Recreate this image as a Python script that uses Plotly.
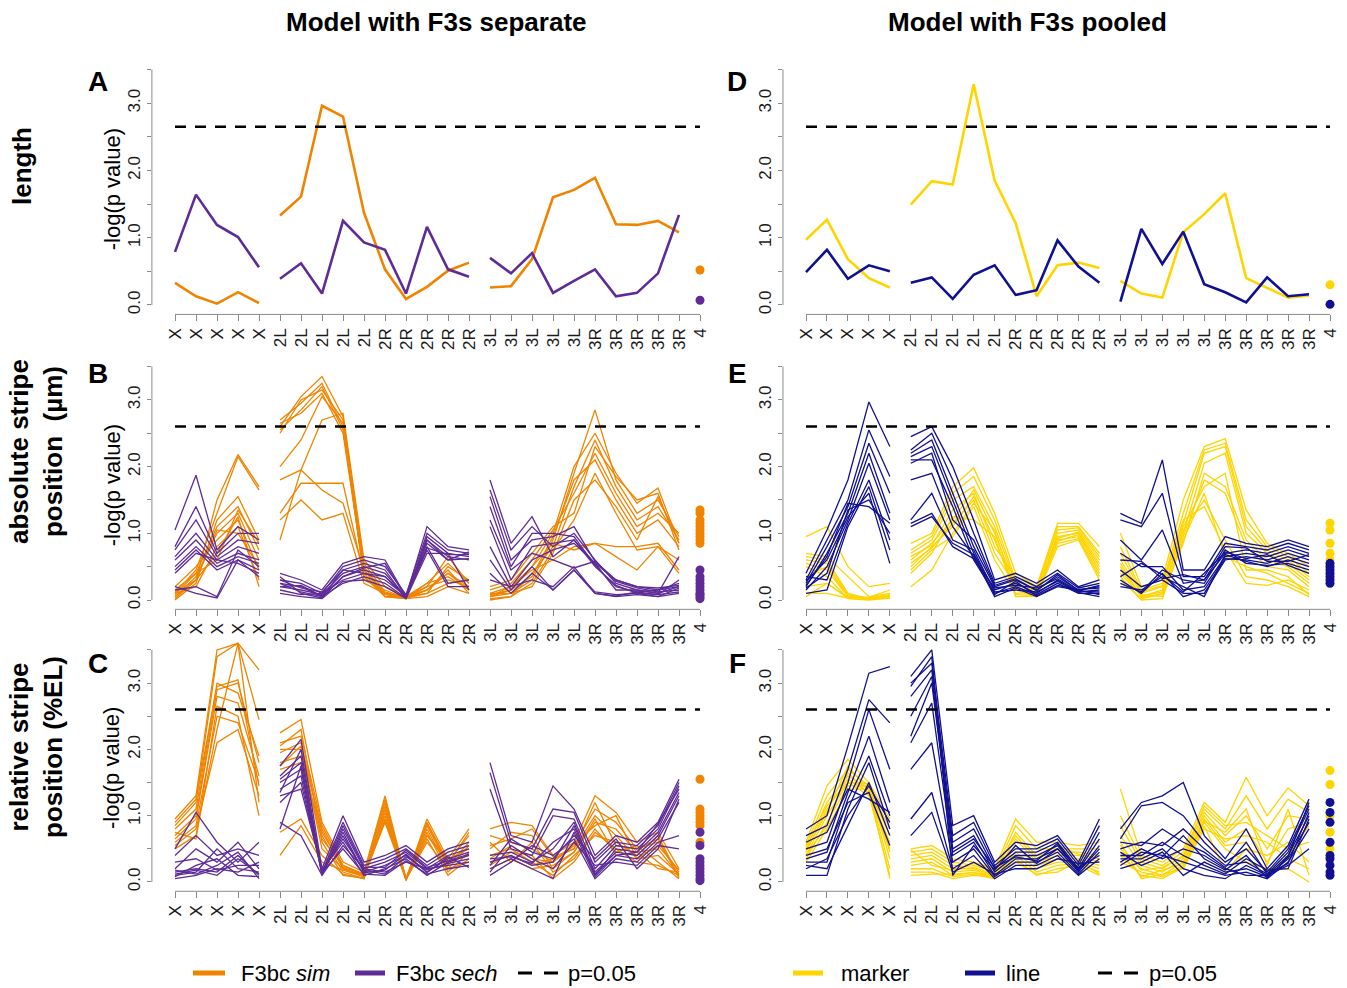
import plotly.graph_objects as go

W, H = 1347, 988

# ---------------- categories ----------------
chrom = ["X"] * 5 + ["2L"] * 5 + ["2R"] * 5 + ["3L"] * 5 + ["3R"] * 5 + ["4"]
threshold_len = 2.65
threshold_pos = 2.60

# ---------------- panel A (length, F3s separate) ----------------
A_sim = [0.33, 0.13, 0.02, 0.19, 0.03, 1.33, 1.61, 2.96, 2.80, 1.37, 0.53, 0.09, 0.27, 0.51, 0.63,
         0.26, 0.28, 0.68, 1.60, 1.71, 1.89, 1.20, 1.19, 1.25, 1.08]
A_sim_dot = [0.52]
A_sech = [0.79, 1.64, 1.19, 1.01, 0.56, 0.39, 0.62, 0.17, 1.25, 0.93, 0.82, 0.17, 1.16, 0.53, 0.42,
          0.70, 0.47, 0.77, 0.18, 0.36, 0.53, 0.13, 0.18, 0.47, 1.34]
A_sech_dot = [0.07]

# ---------------- panel D (length, F3s pooled) ----------------
D_marker = [0.97, 1.27, 0.68, 0.40, 0.26, 1.49, 1.84, 1.79, 3.28, 1.85, 1.22, 0.13, 0.59, 0.63, 0.55,
            0.36, 0.17, 0.11, 1.08, 1.35, 1.66, 0.40, 0.26, 0.11, 0.14]
D_marker_dot = [0.30]
D_line = [0.49, 0.82, 0.39, 0.59, 0.50, 0.33, 0.41, 0.09, 0.45, 0.59, 0.15, 0.22, 0.96, 0.57, 0.33,
          0.05, 1.13, 0.61, 1.09, 0.31, 0.19, 0.04, 0.41, 0.13, 0.16]
D_line_dot = [0.01]

# ---------------- panel B (absolute position, separate) ----------------
B_sim = [
    [0.05, 0.30, 1.50, 2.18, 1.70, 2.60, 3.05, 3.35, 2.75, 0.45, 0.05, 0.02, 0.15, 0.40, 0.20, 0.05, 0.10, 0.30, 0.90, 1.90, 2.85, 1.80, 1.30, 1.50, 0.95],
    [0.10, 0.45, 1.30, 2.15, 1.65, 2.70, 2.95, 3.25, 2.60, 0.35, 0.10, 0.05, 0.20, 0.65, 0.25, 0.10, 0.20, 0.50, 1.00, 2.00, 2.50, 1.90, 1.45, 1.68, 0.85],
    [0.00, 0.25, 1.20, 1.55, 0.90, 2.55, 2.85, 3.20, 2.55, 0.50, 0.08, 0.03, 0.10, 0.50, 0.30, 0.00, 0.05, 0.40, 0.80, 1.70, 2.40, 1.70, 1.20, 1.40, 0.90],
    [0.15, 0.40, 1.10, 1.40, 0.75, 2.50, 3.00, 3.15, 2.70, 0.30, 0.15, 0.02, 0.25, 0.35, 0.15, 0.15, 0.25, 0.60, 1.05, 1.60, 2.20, 1.60, 1.10, 1.30, 1.00],
    [0.05, 0.35, 1.00, 1.30, 0.60, 2.65, 2.80, 3.10, 2.50, 0.40, 0.05, 0.05, 0.15, 0.45, 0.10, 0.05, 0.15, 0.35, 0.95, 1.80, 2.10, 1.50, 1.00, 1.20, 0.80],
    [0.20, 0.50, 0.90, 1.20, 0.45, 2.00, 2.40, 3.05, 2.65, 0.55, 0.12, 0.02, 0.20, 0.30, 0.20, 0.10, 0.10, 0.20, 0.70, 1.50, 1.80, 1.40, 0.90, 1.55, 0.85],
    [0.10, 0.20, 0.80, 1.10, 0.30, 1.80, 1.95, 2.70, 2.80, 0.60, 0.20, 0.05, 0.10, 0.25, 0.30, 0.20, 0.30, 0.70, 1.10, 1.30, 2.30, 1.85, 1.50, 1.60, 0.75],
    [0.02, 0.30, 0.70, 1.25, 0.20, 1.30, 1.75, 1.75, 1.75, 0.35, 0.05, 0.02, 0.05, 0.20, 0.10, 0.02, 0.05, 0.25, 0.75, 1.20, 1.90, 1.30, 0.75, 0.80, 0.40],
    [0.08, 0.40, 0.60, 1.35, 0.85, 1.20, 1.50, 1.20, 1.30, 0.25, 0.10, 0.03, 0.15, 0.40, 0.15, 0.05, 0.20, 0.45, 0.60, 0.80, 0.85, 0.80, 0.80, 0.85, 0.45],
    [0.12, 0.30, 1.05, 1.00, 0.50, 0.90, 1.95, 1.65, 1.45, 0.45, 0.10, 0.05, 0.25, 0.55, 0.25, 0.08, 0.15, 0.50, 0.85, 0.75, 0.85, 0.65, 0.45, 0.80, 0.60],
]
B_sim_dots = [1.35, 1.30, 1.20, 1.15, 1.10, 1.05, 1.00, 0.95, 0.90, 0.85]
B_sech = [
    [1.05, 1.87, 0.75, 1.10, 0.90, 0.40, 0.30, 0.15, 0.55, 0.65, 0.60, 0.05, 1.10, 0.80, 0.75, 1.80, 0.85, 1.25, 0.65, 0.90, 0.55, 0.30, 0.20, 0.15, 0.25],
    [0.80, 1.40, 0.70, 1.00, 1.00, 0.30, 0.25, 0.10, 0.50, 0.60, 0.50, 0.08, 1.00, 0.75, 0.70, 1.65, 0.75, 1.10, 0.80, 1.00, 0.60, 0.25, 0.15, 0.10, 0.20],
    [0.75, 1.20, 0.65, 0.90, 0.85, 0.25, 0.20, 0.05, 0.45, 0.55, 0.45, 0.02, 0.95, 0.70, 0.65, 1.55, 0.60, 0.90, 0.95, 1.10, 0.58, 0.28, 0.18, 0.12, 0.15],
    [0.65, 1.00, 0.60, 0.80, 0.70, 0.20, 0.15, 0.08, 0.40, 0.50, 0.40, 0.05, 0.90, 0.65, 0.60, 1.40, 0.50, 1.00, 1.00, 0.95, 0.52, 0.20, 0.12, 0.08, 0.30],
    [0.60, 0.90, 0.55, 0.70, 0.60, 0.35, 0.10, 0.03, 0.35, 0.45, 0.35, 0.04, 0.85, 0.60, 0.62, 1.10, 0.30, 0.80, 0.85, 0.90, 0.50, 0.22, 0.10, 0.05, 0.18],
    [0.50, 0.80, 0.50, 0.65, 0.55, 0.15, 0.08, 0.10, 0.30, 0.40, 0.30, 0.06, 0.80, 0.25, 0.30, 0.80, 0.20, 0.60, 0.75, 0.85, 0.55, 0.15, 0.15, 0.10, 0.65],
    [0.45, 0.75, 0.45, 0.60, 0.45, 0.25, 0.12, 0.05, 0.25, 0.35, 0.25, 0.03, 0.75, 0.20, 0.20, 0.60, 0.15, 0.50, 0.15, 0.45, 0.10, 0.05, 0.08, 0.05, 0.10],
    [0.40, 0.70, 0.60, 0.55, 0.40, 0.10, 0.05, 0.02, 0.28, 0.30, 0.20, 0.02, 0.70, 0.70, 0.15, 0.40, 0.10, 0.40, 0.15, 0.45, 0.12, 0.08, 0.10, 0.08, 0.12],
    [0.20, 0.10, 0.03, 0.60, 0.35, 0.30, 0.18, 0.12, 0.45, 0.40, 0.35, 0.05, 0.90, 0.60, 0.72, 0.30, 0.20, 0.30, 0.20, 0.50, 0.10, 0.06, 0.12, 0.15, 0.20],
    [0.15, 0.20, 0.05, 0.75, 0.50, 0.20, 0.22, 0.06, 0.35, 0.48, 0.55, 0.04, 0.78, 0.68, 0.68, 1.20, 0.45, 0.70, 0.60, 0.48, 0.58, 0.30, 0.20, 0.18, 0.22],
]
B_sech_dots = [0.45, 0.35, 0.30, 0.25, 0.20, 0.15, 0.10, 0.08, 0.05, 0.02]

# ---------------- panel C (relative position, separate) ----------------
C_sim = [
    [0.95, 1.30, 3.50, 3.60, 3.20, 2.25, 2.45, 0.90, 0.30, 0.15, 1.30, 0.05, 0.95, 0.35, 0.80, 0.80, 0.90, 0.85, 0.40, 0.60, 1.30, 1.05, 0.60, 0.75, 0.20],
    [0.85, 1.20, 3.40, 3.60, 2.45, 2.10, 2.20, 0.85, 0.25, 0.10, 1.20, 0.03, 0.90, 0.30, 0.70, 0.70, 0.60, 0.50, 0.30, 0.55, 1.10, 0.90, 0.50, 0.60, 0.15],
    [0.80, 1.10, 3.00, 2.85, 1.90, 2.00, 2.00, 0.80, 0.20, 0.08, 1.10, 0.05, 0.85, 0.25, 0.60, 0.50, 0.75, 0.70, 0.20, 0.45, 0.90, 0.80, 0.45, 0.50, 0.10],
    [0.70, 1.00, 2.90, 3.00, 1.80, 1.80, 1.90, 0.70, 0.15, 0.05, 1.05, 0.04, 0.80, 0.20, 0.55, 0.40, 0.50, 0.30, 0.10, 0.40, 0.70, 0.60, 0.40, 0.70, 0.08],
    [0.65, 0.95, 2.80, 2.70, 1.60, 1.70, 1.80, 0.65, 0.25, 0.12, 1.00, 0.06, 0.75, 0.15, 0.45, 0.30, 0.40, 0.25, 0.35, 0.50, 1.00, 0.70, 0.35, 0.40, 0.12],
    [0.60, 0.85, 2.50, 2.40, 1.50, 2.05, 2.30, 0.60, 0.10, 0.06, 0.95, 0.05, 0.70, 0.30, 0.40, 0.60, 0.30, 0.60, 0.15, 0.35, 0.80, 0.45, 0.55, 0.30, 0.05],
    [0.55, 0.80, 2.10, 2.30, 1.30, 1.75, 2.05, 0.50, 0.20, 0.10, 0.90, 0.03, 0.65, 0.10, 0.35, 0.25, 0.45, 0.40, 0.05, 0.30, 0.75, 0.50, 0.30, 0.25, 0.10],
    [0.50, 0.70, 2.30, 3.60, 1.20, 0.75, 0.95, 0.40, 0.12, 0.05, 1.15, 0.04, 0.60, 0.20, 0.30, 0.20, 0.35, 0.20, 0.25, 0.45, 0.95, 0.40, 0.45, 0.20, 0.15],
    [0.75, 0.65, 2.65, 2.50, 1.00, 0.40, 0.85, 0.30, 0.18, 0.08, 0.92, 0.05, 0.70, 0.35, 0.50, 0.35, 0.55, 0.35, 0.30, 0.58, 0.85, 1.00, 0.35, 0.55, 0.18],
    [0.90, 1.25, 2.95, 3.05, 1.45, 1.95, 2.10, 0.75, 0.22, 0.12, 1.25, 0.02, 0.88, 0.28, 0.75, 0.55, 0.65, 0.80, 0.38, 0.50, 1.20, 0.55, 0.50, 0.65, 0.06],
]
C_sim_dots = [1.55, 1.10, 1.05, 1.00, 0.95, 0.90, 0.85, 0.60]
C_sech = [
    [0.50, 1.05, 0.60, 0.30, 0.60, 1.75, 2.15, 0.20, 1.00, 0.30, 0.40, 0.55, 0.30, 0.50, 0.60, 1.80, 0.70, 0.60, 1.45, 1.10, 0.40, 0.70, 0.60, 0.90, 1.55],
    [0.40, 0.70, 0.40, 0.50, 0.40, 1.60, 1.90, 0.15, 0.90, 0.25, 0.35, 0.50, 0.25, 0.45, 0.55, 1.65, 0.60, 0.50, 1.10, 1.05, 0.30, 0.60, 0.55, 0.85, 1.50],
    [0.20, 0.50, 0.30, 0.60, 0.20, 1.50, 1.70, 0.10, 0.80, 0.20, 0.30, 0.45, 0.20, 0.40, 0.50, 1.40, 0.50, 0.40, 1.00, 0.95, 0.20, 0.55, 0.50, 0.80, 1.45],
    [0.15, 0.20, 0.15, 0.40, 0.10, 1.40, 1.60, 0.12, 0.70, 0.15, 0.25, 0.40, 0.15, 0.35, 0.45, 0.40, 0.45, 0.30, 0.50, 0.90, 0.10, 0.50, 0.45, 0.75, 1.35],
    [0.10, 0.15, 0.50, 0.20, 0.15, 1.30, 1.40, 0.18, 0.60, 0.10, 0.20, 0.35, 0.10, 0.30, 0.40, 0.30, 0.40, 0.25, 0.30, 0.85, 0.15, 0.45, 0.40, 0.70, 1.30],
    [0.05, 0.10, 0.20, 0.15, 0.30, 0.90, 0.70, 0.10, 0.55, 0.20, 0.15, 0.30, 0.20, 0.25, 0.30, 0.20, 0.35, 0.20, 0.05, 0.75, 0.08, 0.40, 0.35, 0.65, 1.20],
    [0.12, 0.18, 0.10, 0.35, 0.12, 0.80, 1.75, 0.14, 0.50, 0.12, 0.10, 0.32, 0.12, 0.20, 0.25, 0.10, 0.30, 0.55, 0.40, 0.65, 0.05, 0.35, 0.30, 0.60, 0.70],
    [0.08, 0.25, 0.35, 0.10, 0.08, 1.20, 1.50, 0.16, 0.65, 0.18, 0.12, 0.38, 0.18, 0.28, 0.35, 0.15, 0.55, 0.35, 0.20, 0.60, 0.25, 0.30, 0.25, 0.55, 0.50],
    [0.18, 0.12, 0.25, 0.45, 0.05, 1.35, 2.00, 0.11, 0.75, 0.14, 0.18, 0.42, 0.14, 0.38, 0.22, 0.25, 0.65, 0.45, 0.35, 0.70, 0.35, 0.65, 0.20, 0.50, 1.25],
    [0.30, 0.35, 0.18, 0.25, 0.25, 1.55, 1.80, 0.13, 0.85, 0.22, 0.22, 0.48, 0.22, 0.32, 0.42, 0.35, 0.38, 0.28, 0.60, 0.80, 0.12, 0.40, 0.45, 0.88, 1.40],
]
C_sech_dots = [0.75, 0.55, 0.35, 0.30, 0.25, 0.20, 0.15, 0.10, 0.05, 0.02]

# ---------------- panel E (absolute position, pooled) ----------------
E_marker = [
    [0.95, 1.10, 0.50, 0.20, 0.25, 0.85, 1.00, 1.70, 1.98, 1.30, 0.40, 0.20, 1.15, 1.15, 0.80, 1.00, 0.20, 0.30, 1.50, 2.30, 2.42, 1.35, 0.85, 0.70, 0.50],
    [0.70, 0.65, 0.35, 0.05, 0.10, 0.75, 0.95, 1.60, 1.85, 1.20, 0.30, 0.15, 1.10, 1.10, 0.70, 0.80, 0.15, 0.25, 1.30, 2.25, 2.35, 1.20, 0.80, 0.65, 0.40],
    [0.65, 0.60, 0.10, 0.02, 0.05, 0.70, 0.90, 1.50, 1.70, 1.10, 0.25, 0.10, 1.00, 1.05, 0.60, 0.60, 0.10, 0.20, 1.15, 2.20, 2.30, 1.10, 0.75, 0.60, 0.35],
    [0.55, 0.45, 0.05, 0.03, 0.08, 0.60, 0.85, 1.20, 1.65, 1.00, 0.20, 0.08, 0.95, 1.00, 0.50, 0.50, 0.05, 0.15, 1.00, 2.05, 2.20, 1.00, 0.70, 0.55, 0.30],
    [0.50, 0.35, 0.02, 0.00, 0.03, 0.50, 0.80, 1.10, 1.55, 0.90, 0.15, 0.05, 0.90, 0.95, 0.40, 0.30, 0.02, 0.10, 0.85, 1.90, 1.70, 0.90, 0.60, 0.50, 0.25],
    [0.20, 0.25, 0.04, 0.01, 0.06, 0.45, 0.75, 0.95, 1.40, 0.60, 0.10, 0.12, 0.85, 0.92, 0.35, 0.45, 0.08, 0.05, 0.95, 1.80, 1.60, 0.80, 0.50, 0.45, 0.20],
    [0.10, 0.10, 0.03, 0.02, 0.04, 0.40, 0.70, 1.25, 1.20, 0.95, 0.05, 0.06, 0.80, 0.90, 0.30, 0.35, 0.00, 0.02, 0.90, 1.60, 0.65, 0.50, 0.40, 0.25, 0.10],
    [0.05, 0.25, 0.03, 0.01, 0.05, 0.20, 0.45, 1.00, 1.45, 1.05, 0.08, 0.07, 0.88, 0.98, 0.45, 0.55, 0.04, 0.08, 1.05, 1.50, 0.90, 0.35, 0.30, 0.20, 0.05],
    [0.60, 0.55, 0.08, 0.02, 0.07, 0.65, 0.82, 1.35, 1.60, 0.80, 0.35, 0.18, 1.05, 1.08, 0.65, 0.70, 0.12, 0.22, 1.20, 1.40, 0.75, 0.25, 0.22, 0.30, 0.15],
    [0.35, 0.50, 0.06, 0.04, 0.15, 0.55, 0.78, 1.15, 1.50, 0.70, 0.22, 0.14, 0.92, 1.02, 0.55, 0.40, 0.06, 0.12, 1.10, 1.70, 1.90, 0.45, 0.45, 0.35, 0.08],
]
E_marker_dots = [1.15, 1.05, 0.85, 0.70, 0.60, 0.50]
E_line = [
    [0.40, 1.05, 1.80, 2.97, 2.30, 2.45, 2.60, 2.00, 1.20, 0.30, 0.40, 0.25, 0.45, 0.20, 0.30, 1.30, 1.15, 2.10, 0.45, 0.45, 0.95, 0.85, 0.80, 0.90, 0.80],
    [0.30, 0.90, 1.50, 2.55, 1.85, 2.25, 2.50, 1.80, 1.00, 0.25, 0.35, 0.20, 0.40, 0.18, 0.25, 1.20, 1.10, 1.60, 0.35, 0.35, 0.85, 0.80, 0.75, 0.85, 0.75],
    [0.25, 0.80, 1.40, 2.35, 1.60, 2.20, 2.40, 1.60, 0.80, 0.20, 0.30, 0.15, 0.35, 0.15, 0.20, 0.90, 0.60, 1.05, 0.25, 0.30, 0.70, 0.75, 0.70, 0.80, 0.70],
    [0.20, 0.70, 1.30, 2.20, 1.30, 2.15, 2.30, 1.50, 0.70, 0.15, 0.25, 0.10, 0.30, 0.12, 0.15, 0.70, 0.50, 0.50, 0.15, 0.20, 0.65, 0.70, 0.65, 0.75, 0.65],
    [0.15, 0.50, 1.20, 2.05, 1.20, 2.10, 2.10, 1.40, 0.60, 0.10, 0.20, 0.08, 0.25, 0.10, 0.10, 0.45, 0.20, 0.30, 0.10, 0.10, 0.60, 0.65, 0.60, 0.70, 0.60],
    [0.35, 0.30, 1.15, 1.80, 0.90, 1.80, 1.90, 1.10, 0.65, 0.05, 0.18, 0.05, 0.20, 0.15, 0.08, 0.30, 0.10, 0.40, 0.05, 0.15, 0.62, 0.60, 0.55, 0.65, 0.55],
    [0.10, 0.15, 1.10, 1.70, 0.75, 1.20, 1.60, 0.90, 0.75, 0.12, 0.15, 0.12, 0.28, 0.11, 0.05, 0.20, 0.15, 0.35, 0.20, 0.05, 0.68, 0.58, 0.50, 0.60, 0.50],
    [0.28, 0.60, 1.25, 1.60, 0.55, 1.15, 1.30, 0.80, 0.62, 0.18, 0.22, 0.18, 0.32, 0.13, 0.12, 0.25, 0.12, 0.45, 0.30, 0.25, 0.75, 0.55, 0.52, 0.55, 0.45],
    [0.18, 0.40, 1.35, 1.50, 1.00, 1.10, 1.25, 0.85, 0.68, 0.08, 0.28, 0.06, 0.22, 0.16, 0.18, 0.35, 0.55, 0.38, 0.12, 0.40, 0.72, 0.62, 0.68, 0.52, 0.40],
    [0.22, 0.65, 1.45, 1.40, 1.15, 2.05, 2.20, 1.20, 0.90, 0.22, 0.32, 0.14, 0.38, 0.14, 0.22, 0.60, 0.58, 0.32, 0.38, 0.30, 0.80, 0.78, 0.58, 0.58, 0.68],
]
E_line_dots = [0.55, 0.50, 0.45, 0.40, 0.35, 0.30, 0.25]

# ---------------- panel F (relative position, pooled) ----------------
F_marker = [
    [0.60, 1.45, 1.85, 1.50, 0.95, 0.50, 0.55, 0.35, 0.30, 0.20, 0.95, 0.60, 0.60, 0.55, 0.60, 1.40, 0.40, 0.30, 0.50, 1.20, 0.90, 1.58, 1.00, 1.42, 1.15],
    [0.55, 1.30, 1.70, 1.45, 0.80, 0.45, 0.50, 0.30, 0.25, 0.15, 0.85, 0.50, 0.50, 0.50, 0.50, 1.00, 0.35, 0.25, 0.45, 1.10, 0.80, 1.30, 0.80, 1.25, 1.05],
    [0.50, 1.20, 1.60, 1.40, 0.70, 0.40, 0.45, 0.25, 0.22, 0.12, 0.75, 0.40, 0.45, 0.45, 0.40, 0.85, 0.30, 0.20, 0.40, 1.05, 0.70, 1.00, 0.50, 1.00, 0.95],
    [0.45, 1.10, 1.55, 1.35, 0.60, 0.35, 0.40, 0.20, 0.20, 0.10, 0.65, 0.30, 0.40, 0.40, 0.30, 0.70, 0.25, 0.15, 0.35, 1.00, 0.60, 0.80, 0.30, 0.80, 0.90],
    [0.40, 1.00, 1.50, 1.30, 0.50, 0.30, 0.35, 0.15, 0.18, 0.08, 0.55, 0.25, 0.35, 0.35, 0.25, 0.50, 0.20, 0.10, 0.30, 0.95, 0.55, 0.60, 0.10, 0.40, 0.85],
    [0.35, 0.90, 1.45, 1.45, 0.35, 0.25, 0.30, 0.10, 0.15, 0.06, 0.45, 0.20, 0.30, 0.30, 0.20, 0.30, 0.15, 0.08, 0.25, 0.90, 0.50, 0.30, 0.20, 0.20, 0.00],
    [0.30, 0.80, 1.40, 1.40, 0.20, 0.20, 0.20, 0.08, 0.12, 0.05, 0.40, 0.15, 0.25, 0.28, 0.15, 0.40, 0.10, 0.05, 0.22, 0.85, 0.15, 0.50, 0.40, 0.60, 0.30],
    [0.40, 0.85, 1.65, 1.32, 0.10, 0.15, 0.15, 0.05, 0.10, 0.07, 0.35, 0.10, 0.20, 0.25, 0.10, 0.60, 0.05, 0.12, 0.20, 0.80, 0.65, 0.70, 0.60, 0.35, 0.20],
    [0.48, 1.05, 1.75, 1.38, 0.05, 0.10, 0.12, 0.12, 0.14, 0.09, 0.30, 0.12, 0.15, 0.32, 0.12, 0.45, 0.08, 0.18, 0.28, 0.92, 0.75, 1.10, 0.25, 1.10, 0.10],
    [0.52, 1.15, 1.50, 1.48, 0.45, 0.48, 0.25, 0.18, 0.28, 0.18, 0.70, 0.35, 0.55, 0.42, 0.35, 0.55, 0.18, 0.22, 0.38, 1.15, 0.85, 0.90, 0.70, 0.50, 0.60],
]
F_marker_dots = [1.68, 1.47, 1.00, 0.75, 0.50]
F_line = [
    [0.80, 1.00, 2.05, 3.15, 3.25, 3.10, 3.50, 0.85, 1.00, 0.30, 0.60, 0.55, 0.70, 0.30, 0.95, 0.80, 1.20, 1.30, 1.50, 0.70, 0.35, 0.80, 0.20, 0.55, 1.25],
    [0.70, 0.85, 1.70, 2.75, 2.40, 3.00, 3.30, 0.70, 0.90, 0.25, 0.50, 0.50, 0.65, 0.25, 0.85, 0.65, 1.15, 1.20, 1.00, 0.60, 0.30, 0.50, 0.15, 0.50, 1.15],
    [0.50, 0.60, 1.50, 2.60, 1.70, 2.80, 3.20, 0.60, 0.80, 0.20, 0.45, 0.45, 0.60, 0.20, 0.75, 0.50, 0.60, 0.55, 0.80, 0.50, 0.25, 0.30, 0.12, 0.45, 1.10],
    [0.35, 0.45, 1.35, 2.20, 1.20, 2.20, 3.00, 0.50, 0.70, 0.15, 0.40, 0.40, 0.55, 0.18, 0.65, 0.30, 0.50, 0.35, 0.50, 0.40, 0.20, 0.10, 0.10, 0.40, 1.00],
    [0.30, 0.30, 1.25, 1.90, 1.00, 2.10, 2.70, 0.40, 0.60, 0.10, 0.35, 0.35, 0.50, 0.15, 0.55, 0.20, 0.30, 0.45, 0.10, 0.30, 0.15, 0.20, 0.08, 0.35, 0.90],
    [0.10, 0.10, 1.10, 1.80, 0.80, 1.70, 2.10, 0.30, 0.50, 0.08, 0.30, 0.30, 0.45, 0.12, 0.45, 0.25, 0.45, 0.40, 0.30, 0.20, 0.10, 0.15, 0.05, 0.30, 0.80],
    [0.25, 0.20, 0.85, 1.50, 0.70, 0.95, 1.35, 0.20, 0.40, 0.05, 0.25, 0.25, 0.40, 0.10, 0.35, 0.35, 0.35, 0.50, 0.20, 0.10, 0.05, 0.25, 0.10, 0.25, 0.50],
    [0.40, 0.50, 1.20, 1.35, 0.55, 0.70, 1.05, 0.15, 0.30, 0.12, 0.20, 0.20, 0.35, 0.28, 0.30, 0.40, 0.40, 0.60, 0.40, 0.25, 0.12, 0.35, 0.18, 0.20, 0.95],
    [0.60, 0.75, 1.40, 1.25, 1.05, 2.95, 3.40, 0.10, 0.55, 0.18, 0.55, 0.28, 0.50, 0.22, 0.40, 0.60, 0.55, 0.80, 0.60, 0.45, 0.22, 0.60, 0.12, 0.28, 1.05],
    [0.20, 0.35, 1.00, 1.45, 0.90, 2.50, 3.10, 0.45, 0.65, 0.22, 0.38, 0.32, 0.58, 0.16, 0.50, 0.45, 0.25, 0.38, 0.70, 0.35, 0.18, 0.40, 0.06, 0.38, 1.20],
]
F_line_dots = [1.20, 1.05, 0.90, 0.60, 0.40, 0.35, 0.25, 0.15, 0.10]

# ---------------- styling ----------------
ORANGE = "#F08400"
PURPLE = "#5E2B97"
YELLOW = "#FFD400"
NAVY = "#101090"
FONT = "Liberation Sans, Arial, Helvetica, sans-serif"
AXC = "#8a8a8a"

group = [c[0] for c in chrom]
dot_pos = len(chrom) - 1


def px(x):
    return x / W


def py(y):
    return 1 - y / H


def broken(vals):
    xs, ys = [], []
    for i, v in enumerate(vals):
        if i > 0 and group[i] != group[i - 1]:
            xs.append(None)
            ys.append(None)
        xs.append(i)
        ys.append(v)
    return xs, ys


fig = go.Figure()

# panel pixel geometry: x of first category, px per category, y of 0, px per unit
panels = {
    1: dict(x0=175, dx=21.0, y0=305, dy=67.3),   # A
    2: dict(x0=806, dx=20.96, y0=305, dy=67.3),  # D
    3: dict(x0=175, dx=21.0, y0=600, dy=66.7),   # B
    4: dict(x0=806, dx=20.96, y0=600, dy=66.7),  # E
    5: dict(x0=175, dx=21.0, y0=882, dy=66.3),   # C
    6: dict(x0=806, dx=20.96, y0=882, dy=66.3),  # F
}
XR = [-1.1, 25.4]
YR = [-0.14, 3.64]

panel_data = {
    1: ([A_sim], A_sim_dot, ORANGE, [A_sech], A_sech_dot, PURPLE, 2.6, threshold_len),
    2: ([D_marker], D_marker_dot, YELLOW, [D_line], D_line_dot, NAVY, 2.6, threshold_len),
    3: (B_sim, B_sim_dots, ORANGE, B_sech, B_sech_dots, PURPLE, 1.3, threshold_pos),
    4: (E_marker, E_marker_dots, YELLOW, E_line, E_line_dots, NAVY, 1.3, threshold_pos),
    5: (C_sim, C_sim_dots, ORANGE, C_sech, C_sech_dots, PURPLE, 1.3, threshold_pos),
    6: (F_marker, F_marker_dots, YELLOW, F_line, F_line_dots, NAVY, 1.3, threshold_pos),
}

shapes = []
annotations = []
layout_axes = {}

for n, g in panels.items():
    sfx = "" if n == 1 else str(n)
    xl = g["x0"] + XR[0] * g["dx"]
    xr = g["x0"] + XR[1] * g["dx"]
    yt = g["y0"] - YR[1] * g["dy"]
    yb = g["y0"] - YR[0] * g["dy"]
    layout_axes["xaxis" + sfx] = dict(
        domain=[px(xl), px(xr)], range=XR, anchor="y" + sfx,
        tickvals=list(range(len(chrom))), ticktext=chrom, tickangle=-90,
        ticks="outside", ticklen=6, tickcolor=AXC, tickwidth=1,
        showline=False, showgrid=False, zeroline=False,
        tickfont=dict(size=17, color="#1a1a1a", family=FONT),
    )
    layout_axes["yaxis" + sfx] = dict(
        domain=[py(yb), py(yt)], range=YR, anchor="x" + sfx,
        tickvals=[0, 0.5, 1, 1.5, 2, 2.5, 3, 3.5],
        ticktext=["0.0", "", "1.0", "", "2.0", "", "3.0", ""], tickangle=-90,
        ticks="outside", ticklen=4, tickcolor=AXC, tickwidth=1,
        showline=False, showgrid=False, zeroline=False,
        tickfont=dict(size=17, color="#1a1a1a", family=FONT),
    )
    # R-style axis lines spanning the tick range only
    shapes.append(dict(type="line", xref=f"x{sfx} domain", yref=f"y{sfx}", x0=0, x1=0, y0=0, y1=3.5,
                       line=dict(color=AXC, width=1)))
    shapes.append(dict(type="line", xref=f"x{sfx}", yref=f"y{sfx} domain", x0=0, x1=dot_pos, y0=0, y1=0,
                       line=dict(color=AXC, width=1)))

    s1, d1, c1, s2, d2, c2, lw, thr = panel_data[n]
    for series, dots, col in ((s1, d1, c1), (s2, d2, c2)):
        for vals in series:
            xs, ys = broken(vals)
            fig.add_trace(go.Scatter(x=xs, y=ys, mode="lines", line=dict(color=col, width=lw),
                                     xaxis="x" + sfx, yaxis="y" + sfx, showlegend=False,
                                     hoverinfo="skip"))
        fig.add_trace(go.Scatter(x=[dot_pos] * len(dots), y=dots, mode="markers",
                                 marker=dict(color=col, size=9, line=dict(width=0)),
                                 xaxis="x" + sfx, yaxis="y" + sfx, showlegend=False,
                                 hoverinfo="skip", cliponaxis=False))
    # significance threshold
    shapes.append(dict(type="line", xref=f"x{sfx}", yref=f"y{sfx}", x0=0, x1=dot_pos, y0=thr, y1=thr,
                       line=dict(color="black", width=2.5, dash="11px,9px")))

# y axis titles (left column only)
for n in (1, 3, 5):
    g = panels[n]
    yc = g["y0"] - 1.72 * g["dy"]
    annotations.append(dict(text="-log(p value)", xref="paper", yref="paper", x=px(112), y=py(yc),
                            textangle=-90, showarrow=False, font=dict(size=22, family=FONT, color="black"),
                            xanchor="center", yanchor="middle"))

# panel letters
letters = [("A", 98, 82), ("B", 98, 373), ("C", 98, 663), ("D", 737, 82), ("E", 737, 373), ("F", 737, 663)]
for t, x, y in letters:
    annotations.append(dict(text=f"<b>{t}</b>", xref="paper", yref="paper", x=px(x), y=py(y),
                            showarrow=False, font=dict(size=28, family=FONT, color="black"),
                            xanchor="center", yanchor="middle"))

# column titles
for t, x in (("Model with F3s separate", 437), ("Model with F3s pooled", 1027)):
    annotations.append(dict(text=f"<b>{t}</b>", xref="paper", yref="paper", x=px(x), y=py(22),
                            showarrow=False, font=dict(size=26, family=FONT, color="black"),
                            xanchor="center", yanchor="middle"))

# row labels
rows = [("<b>length</b>", 166, 22), ("<b>absolute stripe<br>position  (µm)</b>", 452, 36),
        ("<b>relative stripe<br>position (%EL)</b>", 747, 36)]
for t, y, x in rows:
    annotations.append(dict(text=t, xref="paper", yref="paper", x=px(x), y=py(y), textangle=-90,
                            showarrow=False, font=dict(size=26, family=FONT, color="black"),
                            xanchor="center", yanchor="middle"))

# legends (drawn as swatches + text)
LY = py(973)
leg_items = [
    (ORANGE, "solid", 193, 225, "F3bc <i>sim</i>", 239),
    (PURPLE, "solid", 355, 385, "F3bc <i>sech</i>", 394),
    ("black", "dash", 518, 560, "p=0.05", 566),
    (YELLOW, "solid", 793, 823, "marker", 839),
    (NAVY, "solid", 965, 995, "line", 1004),
    ("black", "dash", 1098, 1140, "p=0.05", 1147),
]
for col, style, xa, xb, txt, xt in leg_items:
    if style == "solid":
        shapes.append(dict(type="line", xref="paper", yref="paper", x0=px(xa), x1=px(xb), y0=LY, y1=LY,
                           line=dict(color=col, width=5)))
    else:
        shapes.append(dict(type="line", xref="paper", yref="paper", x0=px(xa), x1=px(xb), y0=LY, y1=LY,
                           line=dict(color=col, width=3, dash="14px,12px")))
    annotations.append(dict(text=txt, xref="paper", yref="paper", x=px(xt), y=LY, showarrow=False,
                            xanchor="left", yanchor="middle", font=dict(size=22, family=FONT, color="black")))

fig.update_layout(
    width=W, height=H, margin=dict(l=0, r=0, t=0, b=0),
    paper_bgcolor="white", plot_bgcolor="white",
    showlegend=False, shapes=shapes, annotations=annotations,
    font=dict(family=FONT),
    **layout_axes,
)

# remove the default 8px page margin so the figure fills the window exactly
fig.write_html("out.html",
               config={"displayModeBar": False, "staticPlot": True},
               post_script="document.body.style.margin='0px';document.body.style.overflow='hidden';")
